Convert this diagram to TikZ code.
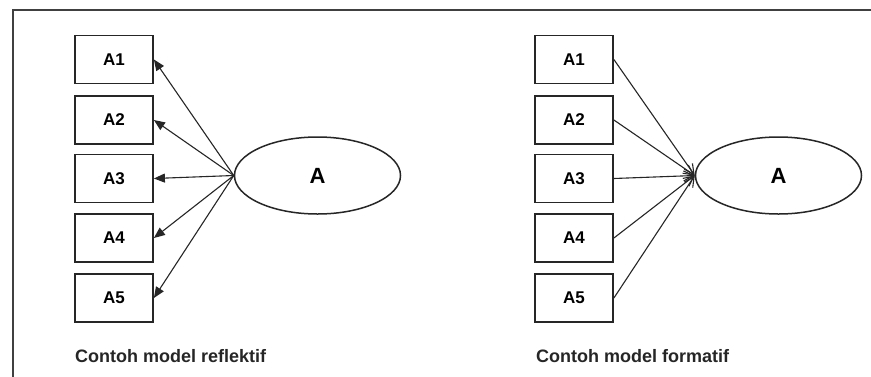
\documentclass[tikz,border=0pt]{standalone}
\usepackage{fontspec}
\setmainfont{Liberation Sans}
\usetikzlibrary{arrows.meta,shapes.geometric}
\begin{document}
\begin{tikzpicture}[x=1pt,y=-1pt,
  ind/.style={draw=black!85, line width=1.8pt, minimum width=78pt, minimum height=48pt,
    inner sep=0pt, font=\fontsize{17}{17}\selectfont\bfseries},
  lat/.style={draw=black!85, ellipse, line width=1.5pt, minimum width=166pt, minimum height=77pt,
    inner sep=0pt, font=\fontsize{22}{22}\selectfont\bfseries},
  refl/.style={line width=1.1pt, draw=black!85, -{Triangle[length=11pt,width=9pt]}},
  form/.style={line width=1.1pt, draw=black!85, -{Straight Barb[length=10pt,width=10pt]}},
  captxt/.style={anchor=west, inner sep=0pt, font=\fontsize{18}{18}\selectfont\bfseries, text=black!85}]
\useasboundingbox (0,0) rectangle (871,376);
\clip (0,0) rectangle (871,376);
\fill[white] (0,0) rectangle (871,376);
\draw[line width=2.2pt, draw=black!75] (13,10) rectangle (900,400);
% reflective
\node[ind] (L1) at (114,59.5) {A1};
\node[ind] (L2) at (114,120) {A2};
\node[ind] (L3) at (114,178.5) {A3};
\node[ind] (L4) at (114,238) {A4};
\node[ind] (L5) at (114,298) {A5};
\node[lat] (LA) at (317.5,175.5) {A};
\foreach \i in {1,...,5} \draw[refl] (LA.west) -- (L\i.east);
\node[captxt] (LC) at (75,356) {Contoh model reflektif};
% formative
\node[ind] (R1) at (574,59.5) {A1};
\node[ind] (R2) at (574,120) {A2};
\node[ind] (R3) at (574,178.5) {A3};
\node[ind] (R4) at (574,238) {A4};
\node[ind] (R5) at (574,298) {A5};
\node[lat] (RA) at (778.5,175.5) {A};
\foreach \i in {1,...,5} \draw[form] (R\i.east) -- (RA.west);
\node[captxt] (RC) at (536,356) {Contoh model formatif};
\end{tikzpicture}
\end{document}
